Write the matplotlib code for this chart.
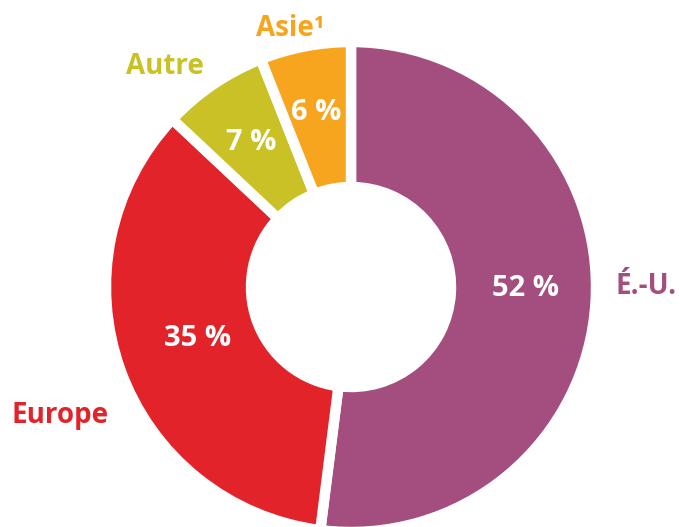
import matplotlib
matplotlib.use("Agg")
import matplotlib.pyplot as plt

regions = ["É.-U.", "Europe", "Autre", "Asie¹"]
shares = [52, 35, 7, 6]
pct_labels = ["52 %", "35 %", "7 %", "6 %"]
colors = ["#A34E7E", "#E3232A", "#C9C126", "#F7A51E"]

plt.rcParams["font.family"] = ["Open Sans", "DejaVu Sans"]

fig = plt.figure(figsize=(6.8, 5.27), dpi=100)
ax = fig.add_axes([0, 0, 1, 1])

# white edge stroke eats ~5 px on each side, so draw slightly bigger
cx, cy, R = 351, 240, 245
wedges, _ = ax.pie(shares, colors=colors, startangle=90, counterclock=False,
                   center=(cx, cy), radius=R, frame=True,
                   wedgeprops=dict(width=145, edgecolor="white", linewidth=7.5))
ax.set_xlim(0, 680)
ax.set_ylim(0, 527)
ax.set_aspect("equal")
ax.axis("off")

# percentage labels inside the ring
pct_pos = [(525, 238), (198, 189), (251, 384), (316, 414)]
for lab, (x, y) in zip(pct_labels, pct_pos):
    ax.text(x, y, lab, color="white", fontsize=21, fontweight="bold",
            ha="center", va="center")

# category names outside
name_pos = [(646, 240), (60, 111), (165, 461), (290, 498)]
for name, (x, y), c in zip(regions, name_pos, colors):
    ax.text(x, y, name, color=c, fontsize=20, fontweight="bold",
            ha="center", va="center")

fig.savefig("out.png", dpi=100)
